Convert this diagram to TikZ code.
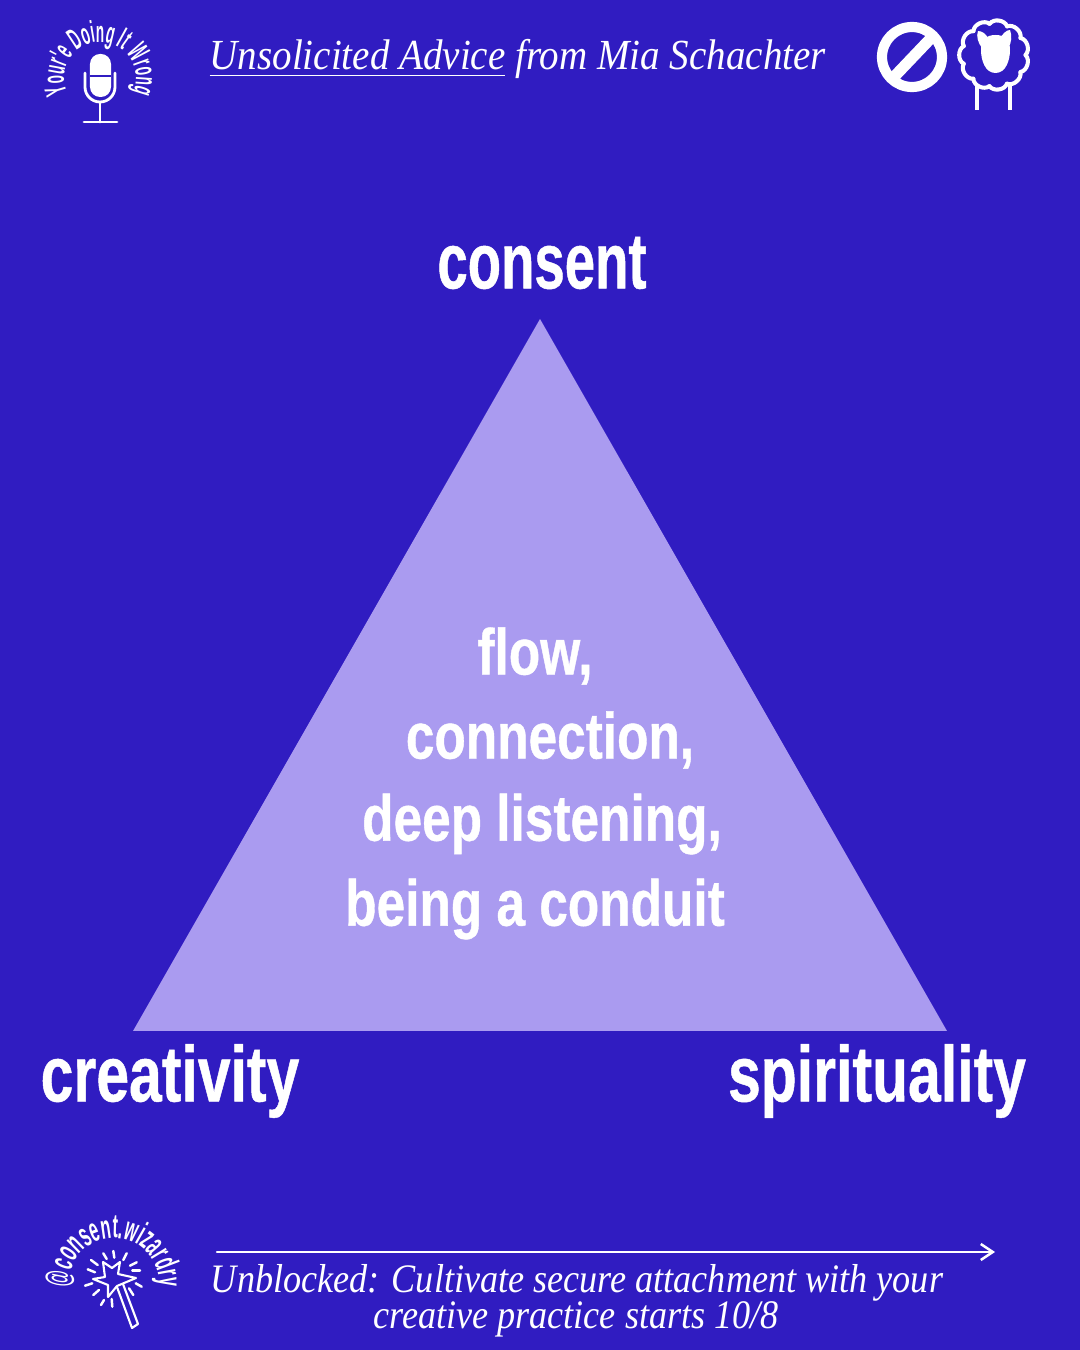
\documentclass[tikz,border=0pt]{standalone}
\usepackage{fontspec}
\usetikzlibrary{arrows.meta,calc,decorations.text}
\newfontfamily\headfont[FakeStretch=0.69,FakeBold=0.6]{Liberation Sans}
\newfontfamily\cornerfont[FakeStretch=0.745,FakeBold=0.6]{Liberation Sans}
\newfontfamily\widefont[FakeStretch=0.79,FakeBold=0.6]{Liberation Sans}
\newfontfamily\serffont[FakeStretch=0.895]{Liberation Serif}
\newfontfamily\titlefont[FakeStretch=0.91]{Liberation Serif}
\newfontfamily\curvefont[FakeStretch=0.45]{Liberation Sans}
\newfontfamily\wizfont[FakeStretch=0.49]{Liberation Sans}
\definecolor{bgblue}{RGB}{48,28,193}
\definecolor{trifill}{RGB}{170,155,240}
\tikzset{
	bigword/.style={text=white, inner sep=0pt, font=\cornerfont\bfseries\fontsize{22.5}{28}\selectfont},
	midword/.style={text=white, inner sep=0pt, font=\widefont\bfseries\fontsize{18.5}{24}\selectfont},
	advice/.style={text=white, inner sep=0pt, font=\serffont\itshape\fontsize{11.5}{10.2}\selectfont},
	logoline/.style={white, line width=0.8pt},
}
\begin{document}
\begin{tikzpicture}[>=Stealth, line cap=round]
	\useasboundingbox (0,0) rectangle (10.8,13.5);
	\fill[bgblue] (0,0) rectangle (10.8,13.5);

	% Driehoek
	\coordinate (top) at (5.40,10.31);
	\coordinate (left) at (1.33,3.19);
	\coordinate (right) at (9.47,3.19);
	\fill[trifill] (top) -- (left) -- (right) -- cycle;

	% Hoeken
	\node[bigword, font=\headfont\bfseries\fontsize{22.5}{28}\selectfont] (consent) at (5.42,10.87) {consent};
	\node[bigword] (creativity) at (1.70,2.69) {creativity};
	\node[bigword] (spirituality) at (8.77,2.69) {spirituality};

	% Midden
	\node[midword] (flow) at (5.35,6.94) {flow,};
	\node[midword] (connection) at (5.50,6.10) {connection,};
	\node[midword] (listening) at (5.42,5.26) {deep listening,};
	\node[midword] (conduit) at (5.35,4.41) {being a conduit};

	% Titel
	\node[advice, anchor=base west, font=\titlefont\itshape\fontsize{12.2}{14}\selectfont] (title) at (2.09,12.80) {\underline{Unsolicited Advice} from Mia Schachter};

	% Microfoon
	\fill[white, rounded corners=1mm] (0.90,12.53) rectangle (1.11,12.96);
	\draw[bgblue, line width=0.5pt, line cap=butt] (0.90,12.74) -- (1.11,12.74);
	\draw[logoline] (0.85,12.77) -- (0.85,12.63) arc[start angle=180, end angle=360, radius=0.15] -- (1.15,12.77);
	\draw[logoline] (1.00,12.48) -- (1.00,12.28);
	\draw[logoline] (0.84,12.28) -- (1.17,12.28);
	\path[postaction={decorate, decoration={text along path, text align=center, text={|\curvefont\bfseries\color{white}\fontsize{8.6}{9}\selectfont|Your'e Doing It Wrong}}}]
		(0.705,12.513) arc[start angle=215, end angle=-35, radius=0.36];

	% Verbodsbord
	\draw[white, line width=2.9pt] (9.12,12.93) circle (0.30);
	\draw[white, line width=3.2pt, line cap=butt] (8.93,12.72) -- (9.33,13.14);

	% Schaap
	\foreach \ang in {0,32.7,...,340} {
		\draw[white, line width=1.15pt] ($(9.94,12.95)+(\ang:0.315)$) to[bend left=62] ($(9.94,12.95)+(\ang-32.7:0.315)$);
	}
	\fill[white] (9.955,12.77) .. controls (9.85,12.77) and (9.81,12.90) .. (9.81,13.00) .. controls (9.81,13.10) and (9.86,13.15) .. (9.955,13.15) .. controls (10.05,13.15) and (10.10,13.10) .. (10.10,13.00) .. controls (10.10,12.90) and (10.06,12.77) .. (9.955,12.77) -- cycle;
	\fill[white] (9.78,13.19) .. controls (9.82,13.19) and (9.86,13.16) .. (9.88,13.12) -- (9.82,13.02) .. controls (9.78,13.07) and (9.76,13.14) .. (9.78,13.19) -- cycle;
	\fill[white] (10.10,13.20) .. controls (10.06,13.20) and (10.03,13.16) .. (10.00,13.12) -- (10.08,13.02) .. controls (10.12,13.07) and (10.12,13.15) .. (10.10,13.20) -- cycle;
	\draw[white, line width=1.15pt, line cap=butt] (9.77,12.65) -- (9.77,12.40);
	\draw[white, line width=1.15pt, line cap=butt] (10.10,12.65) -- (10.10,12.40);

	% Toverstaf
	\path[postaction={decorate, decoration={text along path, text align=center, text={|\wizfont\bfseries\color{white}\fontsize{9.5}{10}\selectfont|@consent.wizardry}}}]
		(0.771,0.412) arc[start angle=215, end angle=-35, radius=0.45];
	\draw[white, line width=0.6pt, line join=round] (1.03,0.88) -- (1.12,0.82) -- (1.20,0.88) -- (1.18,0.76) -- (1.36,0.72) -- (1.17,0.64) -- (1.08,0.53) -- (1.08,0.65) -- (0.93,0.71) -- (1.05,0.73) -- cycle;
	\draw[white, line width=0.6pt, line join=round] (1.17,0.63) -- (1.32,0.22) -- (1.38,0.26) -- (1.23,0.66);
	\foreach \xa/\ya/\xb/\yb in {0.91/0.90/0.977/0.85, 1.033/0.967/1.067/0.91, 1.133/0.99/1.143/0.923, 1.267/0.967/1.233/0.90, 1.367/0.877/1.30/0.843, 1.40/0.793/1.323/0.793, 1.417/0.633/1.357/0.667, 1.333/0.55/1.29/0.617, 1.123/0.433/1.117/0.51, 1.01/0.45/1.04/0.50, 0.933/0.55/0.99/0.60, 0.85/0.643/0.923/0.667, 0.877/0.807/0.95/0.777} {
		\draw[white, line width=0.7pt] (\xa,\ya) -- (\xb,\yb);
	}

	% Pijl
	\coordinate (arrowstart) at (2.17,0.98);
	\coordinate (arrowend) at (9.95,0.98);
	\draw[white, line width=0.7pt, -{Straight Barb[length=1.2mm,width=1.6mm]}] (arrowstart) -- (arrowend);

	% Onderschrift
	\node[advice, anchor=base] (line1) at (5.77,0.58) {Unblocked: Cultivate secure attachment with your};
	\node[advice, anchor=base] (line2) at (5.76,0.22) {creative practice starts 10/8};
\end{tikzpicture}
\end{document}
